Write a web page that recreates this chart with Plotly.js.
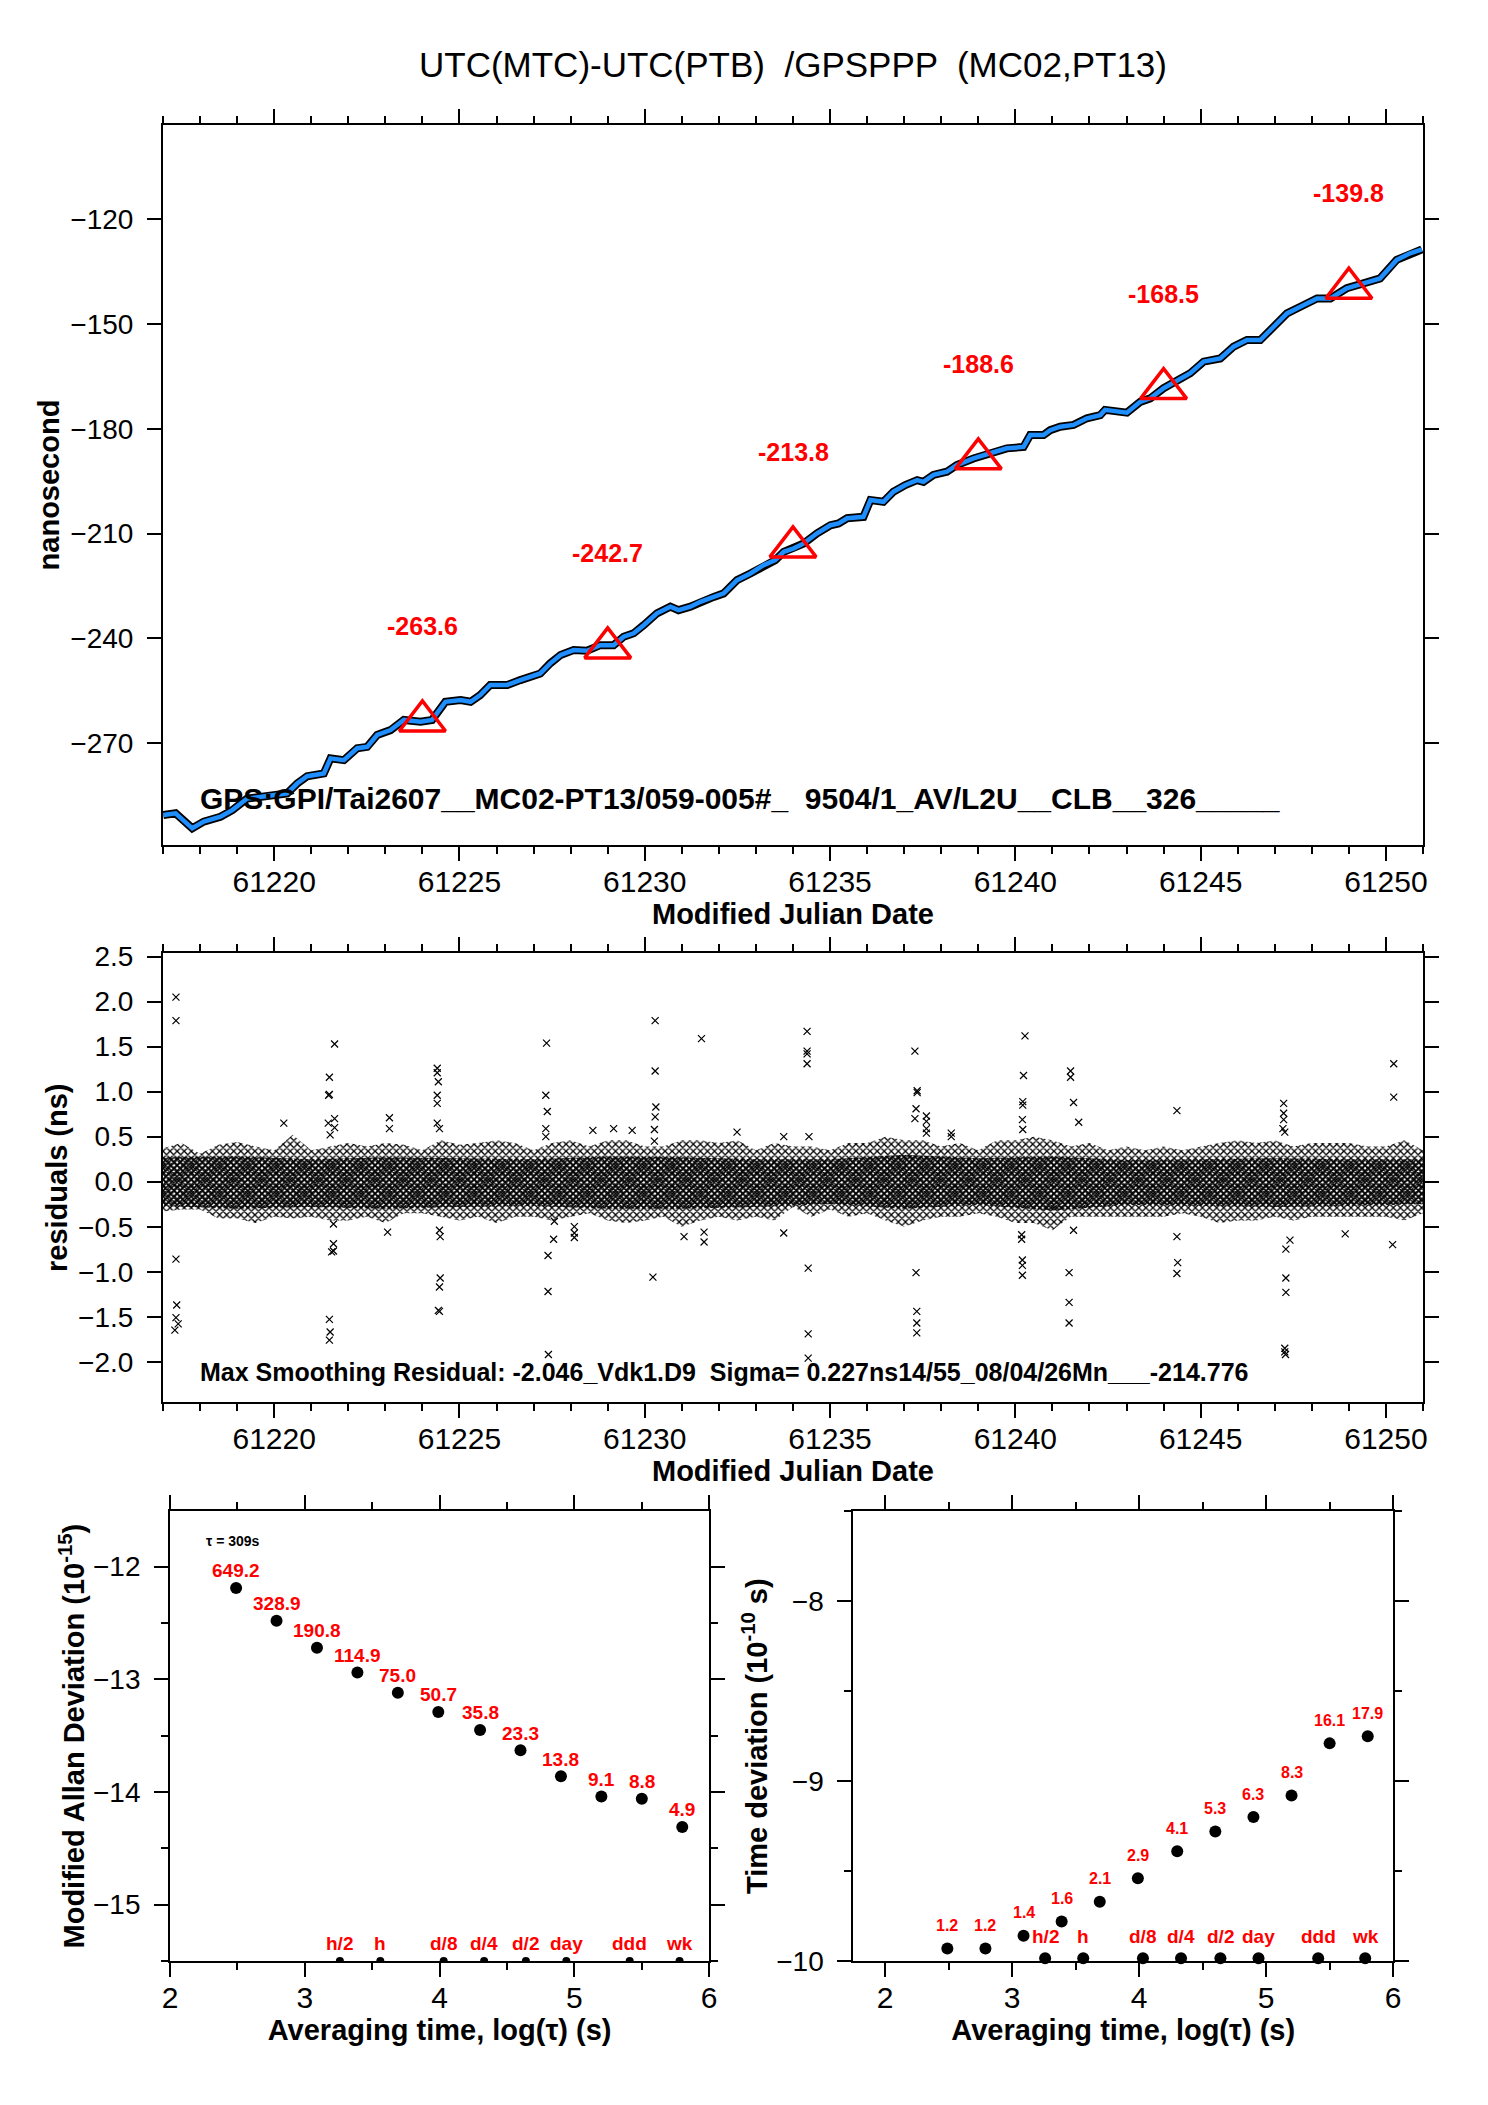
<!DOCTYPE html>
<html>
<head>
<meta charset="utf-8">
<script src="https://cdn.plot.ly/plotly-3.0.1.min.js"></script>
<style>
  html, body { margin: 0; padding: 0; background: #fff; }
  #chart { width: 1488px; height: 2105px; }
</style>
</head>
<body>
<div id="chart"></div>
<script>
// ---- top panel: UTC(MTC)-UTC(PTB)
const mjd = [61217.01, 61217.34, 61217.79, 61218.10, 61218.55, 61218.87, 61219.27, 61219.63, 61219.99, 61220.35,
  61220.62, 61220.89, 61221.34, 61221.52, 61221.88, 61222.24, 61222.51, 61222.78, 61223.14, 61223.50,
  61223.95, 61224.26, 61224.62, 61225.03, 61225.30, 61225.56, 61225.83, 61226.29, 61226.64, 61227.18,
  61227.45, 61227.73, 61228.08, 61228.44, 61228.80, 61229.16, 61229.43, 61229.70, 61229.97, 61230.33,
  61230.69, 61230.91, 61231.23, 61231.50, 61231.86, 61232.13, 61232.49, 61232.85, 61233.21, 61233.52,
  61233.75, 61234.02, 61234.29, 61234.65, 61235.01, 61235.23, 61235.46, 61235.90, 61236.09, 61236.44,
  61236.71, 61237.03, 61237.35, 61237.52, 61237.79, 61238.15, 61238.42, 61238.87, 61239.32, 61239.77,
  61240.22, 61240.40, 61240.76, 61240.94, 61241.21, 61241.57, 61241.93, 61242.29, 61242.42, 61243.01,
  61243.37, 61243.64, 61244.00, 61244.36, 61244.72, 61245.08, 61245.53, 61245.89, 61246.25, 61246.61,
  61246.96, 61247.33, 61247.69, 61248.14, 61248.50, 61248.94, 61249.39, 61249.84, 61250.29, 61250.65,
  61250.97];
const offsetNs = [-290.5, -290.0, -294.3, -292.4, -291.0, -289.1, -285.8, -285.3, -284.8, -284.3,
  -281.5, -279.4, -278.6, -274.3, -274.8, -271.4, -271.0, -267.6, -266.2, -263.3,
  -263.8, -263.3, -258.1, -257.6, -258.1, -256.2, -253.3, -253.3, -251.9, -250.0,
  -247.1, -244.7, -243.3, -243.5, -241.9, -241.9, -239.5, -238.5, -236.2, -232.8,
  -230.9, -231.9, -230.9, -229.5, -228.1, -227.1, -223.3, -221.4, -219.0, -217.6,
  -215.2, -214.2, -212.8, -209.9, -207.6, -207.1, -205.6, -205.2, -200.4, -200.9,
  -198.0, -196.1, -194.7, -195.2, -193.2, -192.3, -190.4, -188.5, -187.0, -185.6,
  -185.2, -181.8, -181.8, -180.4, -179.4, -178.9, -177.0, -176.1, -174.6, -175.4,
  -172.3, -171.3, -168.4, -166.1, -164.1, -160.8, -159.9, -156.5, -154.6, -154.6,
  -150.8, -147.0, -145.1, -142.7, -142.7, -139.8, -138.4, -137.0, -131.7, -129.8,
  -128.7];
const markMjd = [61224, 61229, 61234, 61239, 61244, 61249];
const markNs = [-263.6, -242.7, -213.8, -188.6, -168.5, -139.8];

// ---- middle panel: residuals (ns)
const bandMjd = [];
for (let d = 61217; d <= 61251; d += 0.5) bandMjd.push(d);
const bandHi = [0.37, 0.43, 0.31, 0.41, 0.44, 0.39, 0.35, 0.52, 0.35, 0.39,
  0.43, 0.39, 0.43, 0.41, 0.35, 0.46, 0.41, 0.43, 0.46, 0.43,
  0.35, 0.43, 0.46, 0.39, 0.46, 0.46, 0.39, 0.39, 0.46, 0.46,
  0.43, 0.46, 0.35, 0.43, 0.39, 0.39, 0.35, 0.43, 0.43, 0.50,
  0.46, 0.46, 0.39, 0.43, 0.35, 0.46, 0.46, 0.50, 0.46, 0.39,
  0.43, 0.35, 0.39, 0.35, 0.39, 0.35, 0.39, 0.43, 0.46, 0.43,
  0.46, 0.39, 0.43, 0.43, 0.43, 0.39, 0.39, 0.46, 0.35];
const bandLo = [-0.33, -0.31, -0.31, -0.41, -0.41, -0.46, -0.39, -0.41, -0.39, -0.43,
  -0.43, -0.39, -0.46, -0.35, -0.35, -0.39, -0.43, -0.39, -0.46, -0.39,
  -0.39, -0.43, -0.39, -0.35, -0.43, -0.46, -0.43, -0.39, -0.50, -0.43,
  -0.39, -0.43, -0.39, -0.43, -0.28, -0.39, -0.31, -0.39, -0.35, -0.43,
  -0.50, -0.43, -0.39, -0.39, -0.35, -0.39, -0.46, -0.46, -0.54, -0.39,
  -0.39, -0.39, -0.39, -0.39, -0.39, -0.35, -0.39, -0.46, -0.43, -0.43,
  -0.39, -0.43, -0.39, -0.39, -0.39, -0.39, -0.39, -0.43, -0.35];
const coreMjd = [61217, 61219, 61221, 61223, 61225, 61227, 61229, 61231, 61233,
  61235, 61237, 61239, 61241, 61243, 61245, 61247, 61249, 61251];
const coreHi = [0.27, 0.28, 0.25, 0.27, 0.26, 0.25, 0.28, 0.27, 0.25,
  0.25, 0.30, 0.26, 0.28, 0.24, 0.25, 0.26, 0.25, 0.25];
const coreLo = [-0.27, -0.30, -0.28, -0.30, -0.28, -0.27, -0.30, -0.30, -0.28,
  -0.25, -0.30, -0.26, -0.32, -0.26, -0.27, -0.28, -0.27, -0.25];
const outMjd = [61217.35, 61217.35, 61217.35, 61217.37, 61217.35, 61217.41, 61217.32, 61220.26,
  61221.63, 61221.49, 61221.49, 61221.47, 61221.46, 61221.63, 61221.63, 61221.51, 61221.60, 61221.55,
  61221.60, 61221.60, 61221.49, 61221.51, 61221.49, 61223.11, 61223.11, 61223.06,
  61224.40, 61224.40, 61224.43, 61224.40, 61224.40, 61224.40, 61224.46, 61224.46, 61224.48, 61224.48,
  61224.46, 61224.43, 61224.46, 61227.35, 61227.33, 61227.37, 61227.33, 61227.33, 61227.39, 61227.39,
  61227.40, 61227.54, 61227.56, 61228.10, 61228.10, 61228.10, 61230.28, 61230.28, 61230.30, 61230.28,
  61230.26, 61230.26, 61230.22, 61231.53, 61228.60, 61229.16, 61229.66, 61232.49, 61231.60, 61231.60,
  61231.06, 61233.75, 61233.75,
  61234.38, 61234.38, 61234.38, 61234.38, 61234.43, 61234.41, 61234.41, 61234.41,
  61237.29, 61237.35, 61237.35, 61237.32, 61237.29, 61237.60, 61237.60, 61237.60, 61237.60,
  61237.32, 61237.34, 61237.34, 61237.34, 61238.27, 61238.27,
  61240.26, 61240.22, 61240.20, 61240.20, 61240.19, 61240.20, 61240.17, 61240.17, 61240.19, 61240.19,
  61240.19, 61241.49, 61241.49, 61241.57, 61241.71, 61241.45, 61241.45, 61241.45, 61241.57,
  61244.36, 61244.36, 61244.38, 61244.36,
  61247.24, 61247.24, 61247.24, 61247.22, 61247.27, 61247.30, 61247.41, 61247.30, 61247.30, 61247.27,
  61247.29, 61247.27, 61250.21, 61250.21, 61250.18, 61248.90];
const outRes = [2.05, 1.79, -0.86, -1.37, -1.51, -1.58, -1.65, 0.65,
  1.53, 1.16, 0.97, 0.96, 0.65, 0.70, 0.60, 0.52, -0.69, -0.78,
  -0.77, -0.47, -1.53, -1.67, -1.76, 0.71, 0.59, -0.56,
  1.26, 1.21, 1.11, 0.96, 0.87, 0.65, 0.59, -0.54, -0.61, -1.07,
  -1.17, -1.43, -1.44, 1.54, 0.96, 0.78, 0.59, 0.50, -0.82, -1.22,
  -1.92, -0.64, -0.44, -0.50, -0.57, -0.62, 1.79, 1.23, 0.83, 0.72,
  0.58, 0.45, -1.06, 1.59, 0.57, 0.59, 0.57, 0.55, -0.56, -0.67,
  -0.61, 0.50, -0.57,
  1.67, 1.45, 1.42, 1.31, 0.50, -0.96, -1.69, -1.96,
  1.45, 1.01, 0.99, 0.81, 0.70, 0.73, 0.67, 0.59, 0.54,
  -1.01, -1.44, -1.57, -1.68, 0.54, 0.50,
  1.62, 1.18, 0.89, 0.85, 0.69, 0.58, -0.59, -0.64, -0.87, -0.93,
  -1.04, 1.23, 1.16, 0.88, 0.66, -1.01, -1.34, -1.57, -0.54,
  0.79, -0.61, -0.90, -1.02,
  0.87, 0.76, 0.69, 0.59, 0.55, -0.75, -0.65, -1.07, -1.23, -1.85,
  -1.92, -1.89, 1.31, 0.94, -0.70, -0.58];

// ---- bottom panels: stability
const logTau = [2.49, 2.79, 3.09, 3.39, 3.69, 3.99, 4.30, 4.60, 4.90, 5.20, 5.50, 5.80];
const mdevVal = [649.2, 328.9, 190.8, 114.9, 75.0, 50.7, 35.8, 23.3, 13.8, 9.1, 8.8, 4.9];
const mdevLog = [-12.19, -12.48, -12.72, -12.94, -13.12, -13.29, -13.45, -13.63, -13.86, -14.04, -14.06, -14.31];
const tdevVal = [1.2, 1.2, 1.4, 1.6, 2.1, 2.9, 4.1, 5.3, 6.3, 8.3, 16.1, 17.9];
const tdevLog = [-9.93, -9.93, -9.86, -9.78, -9.67, -9.54, -9.39, -9.28, -9.20, -9.08, -8.79, -8.75];
const refLog = [3.26, 3.56, 4.03, 4.33, 4.64, 4.94, 5.41, 5.78];
const refNames = ['h/2', 'h', 'd/8', 'd/4', 'd/2', 'day', 'ddd', 'wk'];
const mdevFloor = -15.5;
const tdevFloor = -9.985;

const FONT = 'Liberation Sans, Arial, Helvetica, sans-serif';
const RED = '#ff0000';

const data = [
  {x: mjd, y: offsetNs, mode: 'lines', line: {color: '#000', width: 8}, xaxis: 'x', yaxis: 'y', hoverinfo: 'skip'},
  {x: mjd, y: offsetNs, mode: 'lines', line: {color: '#1f8fff', width: 4.5}, xaxis: 'x', yaxis: 'y'},
  {x: markMjd, y: markNs, mode: 'markers', xaxis: 'x', yaxis: 'y',
   marker: {symbol: 'triangle-up-open', size: 40, color: RED, line: {color: RED, width: 3.5}}},

  {x: bandMjd, y: bandLo, mode: 'lines', line: {width: 0, color: 'rgba(0,0,0,0)'}, xaxis: 'x2', yaxis: 'y2', hoverinfo: 'skip'},
  {x: bandMjd, y: bandHi, mode: 'lines', line: {width: 0, color: 'rgba(0,0,0,0)'}, fill: 'tonexty',
   fillcolor: 'rgba(0,0,0,0.3)', fillpattern: {shape: 'x', fgcolor: '#000', size: 5, solidity: 0.45},
   xaxis: 'x2', yaxis: 'y2'},
  {x: coreMjd, y: coreLo, mode: 'lines', line: {width: 0, color: 'rgba(0,0,0,0)'}, xaxis: 'x2', yaxis: 'y2', hoverinfo: 'skip'},
  {x: coreMjd, y: coreHi, mode: 'lines', line: {width: 0, color: 'rgba(0,0,0,0)'}, fill: 'tonexty',
   fillcolor: 'rgba(0,0,0,0.75)', fillpattern: {shape: 'x', fgcolor: '#000', size: 4, solidity: 0.65},
   xaxis: 'x2', yaxis: 'y2'},
  {x: outMjd, y: outRes, mode: 'markers', xaxis: 'x2', yaxis: 'y2',
   marker: {symbol: 'x-thin', size: 7, line: {color: '#000', width: 1.2}}},

  {x: logTau, y: mdevLog, mode: 'markers', xaxis: 'x3', yaxis: 'y3',
   marker: {color: '#000', size: 12}},
  {x: refLog, y: refLog.map(() => mdevFloor), mode: 'markers', xaxis: 'x3', yaxis: 'y3',
   marker: {color: '#000', size: 8}},

  {x: logTau, y: tdevLog, mode: 'markers', xaxis: 'x4', yaxis: 'y4', cliponaxis: false,
   marker: {color: '#000', size: 12}},
  {x: refLog, y: refLog.map(() => tdevFloor), mode: 'markers', xaxis: 'x4', yaxis: 'y4', cliponaxis: false,
   marker: {color: '#000', size: 12}}
];

const annotations = [];
markMjd.forEach((d, i) => annotations.push({
  x: d, y: markNs[i], xref: 'x', yref: 'y', yshift: 95, showarrow: false,
  text: String(markNs[i]), font: {family: FONT, size: 25, color: RED, weight: 'bold'}
}));
logTau.forEach((t, i) => annotations.push({
  x: t, y: mdevLog[i], xref: 'x3', yref: 'y3', yshift: 17, showarrow: false,
  text: mdevVal[i].toFixed(1), font: {family: FONT, size: 19, color: RED, weight: 'bold'}
}));
logTau.forEach((t, i) => annotations.push({
  x: t, y: tdevLog[i], xref: 'x4', yref: 'y4', yshift: 23, showarrow: false,
  text: tdevVal[i].toFixed(1), font: {family: FONT, size: 16, color: RED, weight: 'bold'}
}));
refLog.forEach((t, i) => {
  annotations.push({x: t, y: mdevFloor, xref: 'x3', yref: 'y3', yshift: 18, showarrow: false,
    text: refNames[i], font: {family: FONT, size: 19, color: RED, weight: 'bold'}});
  annotations.push({x: t, y: tdevFloor, xref: 'x4', yref: 'y4', yshift: 22, showarrow: false,
    text: refNames[i], font: {family: FONT, size: 19, color: RED, weight: 'bold'}});
});
annotations.push({
  x: 0.028, y: 0.065, xref: 'x domain', yref: 'y domain', xanchor: 'left', yanchor: 'middle', showarrow: false,
  text: 'GPS:GPI/Tai2607__MC02-PT13/059-005#_  9504/1_AV/L2U__CLB__326_____',
  font: {family: FONT, size: 30, color: '#000', weight: 'bold'}
});
annotations.push({
  x: 0.028, y: 0.0675, xref: 'x2 domain', yref: 'y2 domain', xanchor: 'left', yanchor: 'middle', showarrow: false,
  text: 'Max Smoothing Residual: -2.046_Vdk1.D9  Sigma= 0.227ns14/55_08/04/26Mn___-214.776',
  font: {family: FONT, size: 25, color: '#000', weight: 'bold'}
});
annotations.push({
  x: 2.25, y: -11.77, xref: 'x3', yref: 'y3', xanchor: 'left', yanchor: 'middle', showarrow: false,
  text: 'τ = 309s', font: {family: FONT, size: 14, color: '#000', weight: 'bold'}
});

const yTickFont = {family: FONT, size: 28, color: '#000'};
const xTickFont = {family: FONT, size: 30, color: '#000'};
const titleFont = {family: FONT, size: 29, color: '#000', weight: 'bold'};
function axis(extra) {
  return Object.assign({
    showline: true, linecolor: '#000', linewidth: 2, mirror: 'ticks',
    ticks: 'outside', ticklen: 14, tickwidth: 2, tickcolor: '#000',
    showgrid: false, zeroline: false, tickfont: yTickFont, ticklabelstandoff: 8
  }, extra);
}
function xaxisOf(extra) {
  return axis(Object.assign({tickfont: xTickFont, ticklabelstandoff: -5}, extra));
}
const minor = (dt) => ({dtick: dt, ticks: 'outside', ticklen: 7, tickwidth: 2, tickcolor: '#000', showgrid: false});

const layout = {
  width: 1488, height: 2105,
  margin: {l: 162.5, r: 65.2, t: 125, b: 144},
  paper_bgcolor: '#fff', plot_bgcolor: '#fff',
  showlegend: false,
  font: {family: FONT, color: '#000'},
  title: {text: 'UTC(MTC)-UTC(PTB)  /GPSPPP  (MC02,PT13)', x: 0.5, xref: 'paper',
          y: 1 - 65 / 2105, yref: 'container', yanchor: 'middle',
          font: {family: FONT, size: 35, color: '#000'}},
  xaxis: xaxisOf({domain: [0, 1], anchor: 'y', range: [61217, 61251], tick0: 61220, dtick: 5, tickformat: 'd',
               minor: minor(1), title: {text: 'Modified Julian Date', font: titleFont, standoff: 4}}),
  yaxis: axis({domain: [0.6078, 1], anchor: 'x', range: [-299.1, -93.1], tick0: -120, dtick: 30,
               title: {text: 'nanosecond', font: titleFont, standoff: 2}}),
  xaxis2: xaxisOf({domain: [0, 1], anchor: 'y2', range: [61217, 61251], tick0: 61220, dtick: 5, tickformat: 'd',
                minor: minor(1), title: {text: 'Modified Julian Date', font: titleFont, standoff: 4}}),
  yaxis2: axis({domain: [0.3043, 0.5489], anchor: 'x2', range: [-2.451, 2.538], tick0: 0, dtick: 0.5, tickformat: '.1f',
                title: {text: 'residuals (ns)', font: titleFont, standoff: 2}}),
  xaxis3: xaxisOf({domain: [0.0056, 0.4335], anchor: 'y3', range: [2, 6], dtick: 1, minor: minor(0.5),
                title: {text: 'Averaging time, log(τ) (s)', font: titleFont, standoff: 4}}),
  yaxis3: axis({domain: [0, 0.2449], anchor: 'x3', range: [-15.5, -11.51], dtick: 1, minor: minor(0.5),
                title: {text: 'Modified Allan Deviation (10<sup>-15</sup>)', font: titleFont, standoff: 0}}),
  xaxis4: xaxisOf({domain: [0.5479, 0.9763], anchor: 'y4', range: [1.75, 6.0], dtick: 1, minor: minor(0.5),
                title: {text: 'Averaging time, log(τ) (s)', font: titleFont, standoff: 4}}),
  yaxis4: axis({domain: [0, 0.2449], anchor: 'x4', range: [-10, -7.5], dtick: 1, minor: minor(0.5),
                title: {text: 'Time deviation (10<sup>-10</sup> s)', font: titleFont, standoff: 0}}),
  annotations: annotations
};

Plotly.newPlot('chart', data, layout, {displayModeBar: false, staticPlot: true});
</script>
</body>
</html>
